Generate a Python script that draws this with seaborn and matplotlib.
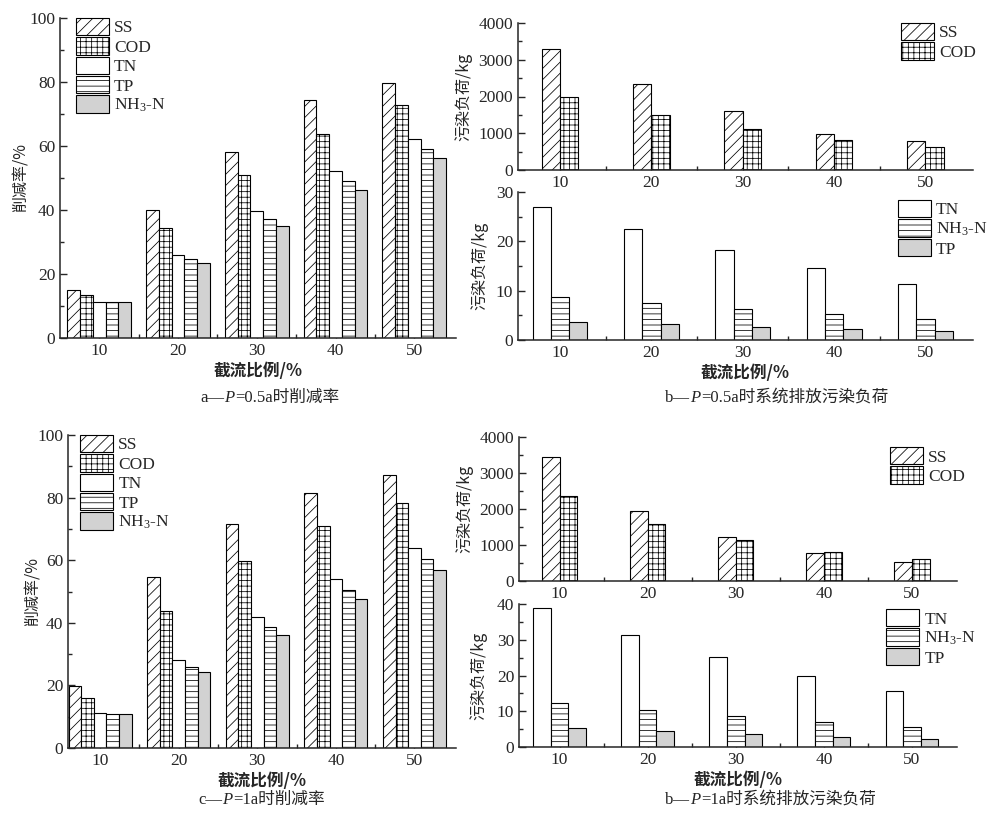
import matplotlib
matplotlib.use("Agg")
import matplotlib.pyplot as plt
import seaborn as sns
import pandas as pd
from matplotlib.patches import Patch
from matplotlib.ticker import MultipleLocator

# ---- data ----
ratios = ["10", "20", "30", "40", "50"]

# a: reduction rate, P = 0.5a (%)
rate_05_ss = [15.1, 39.9, 58.1, 74.5, 79.6]
rate_05_cod = [13.3, 34.3, 50.9, 63.8, 72.9]
rate_05_tn = [11.1, 26.0, 39.7, 52.2, 62.3]
rate_05_tp = [11.1, 24.6, 37.2, 49.0, 59.0]
rate_05_nh3 = [11.1, 23.4, 35.1, 46.4, 56.3]

# b: discharged load, P = 0.5a (kg)
load_05_ss = [3287, 2330, 1607, 975, 777]
load_05_cod = [1986, 1499, 1120, 813, 623]
load_05_tn = [26.9, 22.5, 18.2, 14.5, 11.4]
load_05_nh3 = [8.7, 7.5, 6.3, 5.2, 4.2]
load_05_tp = [3.7, 3.2, 2.6, 2.2, 1.8]

# c: reduction rate, P = 1a (%)
rate_1_ss = [19.9, 54.5, 71.5, 81.6, 87.2]
rate_1_cod = [16.0, 43.7, 59.8, 70.9, 78.3]
rate_1_tn = [11.1, 28.1, 41.7, 54.0, 63.9]
rate_1_tp = [11.0, 26.0, 38.5, 50.4, 60.3]
rate_1_nh3 = [11.0, 24.4, 36.1, 47.7, 57.0]

# d: discharged load, P = 1a (kg)
load_1_ss = [3433, 1953, 1219, 781, 530]
load_1_cod = [2372, 1591, 1126, 809, 605]
load_1_tn = [38.9, 31.3, 25.3, 19.9, 15.6]
load_1_nh3 = [12.3, 10.3, 8.7, 7.0, 5.7]
load_1_tp = [5.3, 4.4, 3.7, 2.8, 2.2]

NH3 = "NH$_3$-N"
GRAY = "#d2d2d2"
STYLE = {  # label -> (facecolor, hatch)
    "SS": ("white", "///"),
    "COD": ("white", "+++"),
    "TN": ("white", ""),
    "TP": ("white", "---"),
    NH3: (GRAY, ""),
}
STYLE_N = {"TN": ("white", ""), NH3: ("white", "---"), "TP": (GRAY, "")}

sns.set_style("ticks")
plt.rcParams["font.family"] = ["Liberation Serif", "Noto Sans CJK SC"]
plt.rcParams["mathtext.fontset"] = "custom"
plt.rcParams["mathtext.rm"] = "Liberation Serif"
plt.rcParams["mathtext.it"] = "Liberation Serif:italic"
plt.rcParams["hatch.linewidth"] = 0.55
plt.rcParams["axes.linewidth"] = 1.1

CJK = ["Noto Sans CJK SC", "Liberation Serif"]

fig = plt.figure(figsize=(9.98, 8.19), dpi=100)


def add_ax(left, top, right, bottom):
    return fig.add_axes([left / 998, 1 - bottom / 819,
                         (right - left) / 998, (bottom - top) / 819])


def bar_panel(ax, series, width, xlim, ylim, ymajor, yminor, styles=STYLE):
    rows = []
    for name, vals in series:
        for r, v in zip(ratios, vals):
            rows.append({"ratio": r, "kind": name, "value": v})
    df = pd.DataFrame(rows)
    order = [n for n, _ in series]
    pal = {n: styles[n][0] for n in order}
    sns.barplot(data=df, x="ratio", y="value", hue="kind", hue_order=order,
                order=ratios, palette=pal, saturation=1, width=width,
                edgecolor="black", linewidth=0.8, errorbar=None,
                legend=False, ax=ax)
    for cont, name in zip(ax.containers, order):
        for bar in cont:
            bar.set_hatch(styles[name][1])
    ax.set_xlim(*xlim)
    ax.set_ylim(*ylim)
    ax.yaxis.set_major_locator(MultipleLocator(ymajor))
    ax.yaxis.set_minor_locator(MultipleLocator(yminor))
    ax.set_xticks([0.5, 1.5, 2.5, 3.5], minor=True)
    ax.tick_params(which="major", direction="in", length=5, width=1, labelsize=12.5)
    ax.tick_params(which="minor", direction="in", length=3, width=1)
    sns.despine(ax=ax)
    ax.set_xlabel("")
    ax.set_ylabel("")
    handles = [Patch(facecolor=styles[n][0], edgecolor="black", hatch=styles[n][1],
                     linewidth=0.8, label=n) for n in order]
    return handles


def add_legend(ax, handles, anchor):
    ax.legend(handles=handles, loc="upper left", bbox_to_anchor=anchor,
              frameon=False, fontsize=12.5, handlelength=1.9, handleheight=1.15,
              labelspacing=0.05, handletextpad=0.3, borderpad=0, borderaxespad=0)


def caption(x_px, y_px, head, tail):
    t1 = fig.text(x_px / 998, 1 - y_px / 819, head, fontsize=12, va="center",
                  family=["Liberation Serif", "Noto Sans CJK SC"])
    t2 = fig.text(0, 0, "P", fontsize=12, style="italic", va="center",
                  family=["Liberation Serif"])
    fig.canvas.draw()
    r = fig.canvas.get_renderer()
    bb = t1.get_window_extent(r)
    t2.set_position((bb.x1 / fig.bbox.width, 1 - y_px / 819))
    bb2 = t2.get_window_extent(r)
    fig.text(bb2.x1 / fig.bbox.width + 0.001, 1 - y_px / 819, tail, fontsize=12,
             va="center", family=["Liberation Serif", "Noto Sans CJK SC"])


def xlab(ax):
    ax.set_xlabel("截流比例/%", fontsize=12, family=CJK, fontweight="bold", labelpad=2)


def ylab(ax, text, x_frac):
    ax.set_ylabel(text, fontsize=11.5, family=CJK)
    ax.yaxis.set_label_coords(x_frac, 0.5)


# ---- a ----
ax_a = add_ax(60, 18, 456, 338)
h = bar_panel(ax_a, [("SS", rate_05_ss), ("COD", rate_05_cod), ("TN", rate_05_tn),
                     ("TP", rate_05_tp), (NH3, rate_05_nh3)],
              0.81, (-0.5, 4.53), (0, 100), 20, 10)
add_legend(ax_a, h, (0.04, 1.0))
xlab(ax_a)
ylab(ax_a, "削减率/%", -0.076)

# ---- b ----
ax_b1 = add_ax(518, 23, 973, 170)
h = bar_panel(ax_b1, [("SS", load_05_ss), ("COD", load_05_cod)],
              0.40, (-0.46, 4.52), (0, 4000), 1000, 500)
add_legend(ax_b1, h, (0.842, 1.0))
xlab(ax_b1)
ylab(ax_b1, "污染负荷/kg", -0.101)

ax_b2 = add_ax(518, 192, 973, 340)
h = bar_panel(ax_b2, [("TN", load_05_tn), (NH3, load_05_nh3), ("TP", load_05_tp)],
              0.60, (-0.46, 4.52), (0, 30), 10, 5, styles=STYLE_N)
add_legend(ax_b2, h, (0.835, 0.946))
xlab(ax_b2)
ylab(ax_b2, "污染负荷/kg", -0.066)

# ---- c ----
ax_c = add_ax(68, 435, 456, 748)
h = bar_panel(ax_c, [("SS", rate_1_ss), ("COD", rate_1_cod), ("TN", rate_1_tn),
                     ("TP", rate_1_tp), (NH3, rate_1_nh3)],
              0.80, (-0.41, 4.53), (0, 100), 20, 10)
add_legend(ax_c, h, (0.031, 1.0))
xlab(ax_c)
ylab(ax_c, "削减率/%", -0.067)

# ---- d ----
ax_d1 = add_ax(519, 437, 957, 581)
h = bar_panel(ax_d1, [("SS", load_1_ss), ("COD", load_1_cod)],
              0.40, (-0.46, 4.51), (0, 4000), 1000, 500)
add_legend(ax_d1, h, (0.847, 0.93))
xlab(ax_d1)
ylab(ax_d1, "污染负荷/kg", -0.105)

ax_d2 = add_ax(519, 604, 957, 747)
h = bar_panel(ax_d2, [("TN", load_1_tn), (NH3, load_1_nh3), ("TP", load_1_tp)],
              0.60, (-0.46, 4.51), (0, 40), 10, 5, styles=STYLE_N)
add_legend(ax_d2, h, (0.838, 0.965))
xlab(ax_d2)
ylab(ax_d2, "污染负荷/kg", -0.073)

# ---- captions ----
caption(200, 398, "a—", "=0.5a时削减率")
caption(665, 398, "b—", "=0.5a时系统排放污染负荷")
caption(198, 800, "c—", "=1a时削减率")
caption(665, 800, "b—", "=1a时系统排放污染负荷")

fig.savefig("out.png", dpi=100)
